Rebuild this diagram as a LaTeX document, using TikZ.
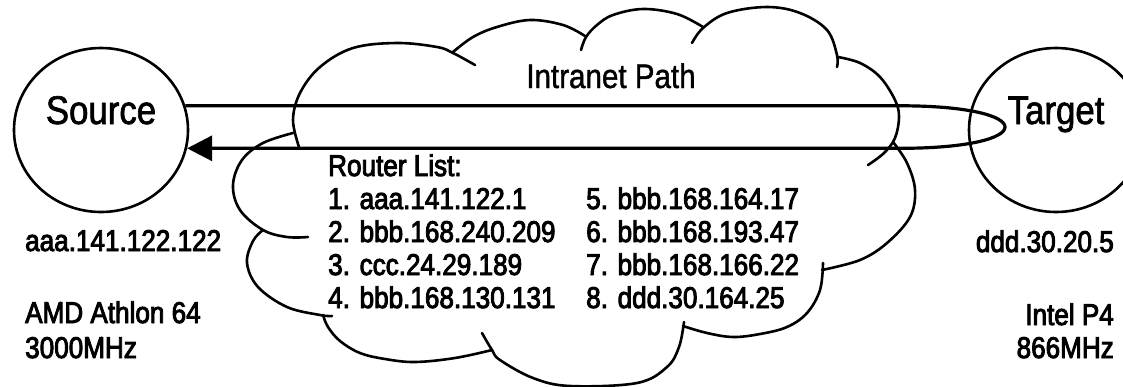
\documentclass[tikz,border=0pt]{standalone}
\usepackage{fontspec}
\setmainfont{Liberation Sans}[FakeStretch=0.87]
\newfontfamily\heavysans{Liberation Sans}[FakeStretch=0.87, FakeBold=3]
\newfontfamily\mediumsans{Liberation Sans}[FakeStretch=0.87, FakeBold=1.6]
\newfontfamily\lightsans{Liberation Sans}[FakeStretch=0.87, FakeBold=1.2]
\usetikzlibrary{shapes.geometric,arrows.meta}

\tikzset{
  cloudline/.style={line width=2.6pt, line cap=round, line join=round},
  host/.style={draw, ellipse, line width=2.6pt, minimum width=174pt,
               minimum height=164pt, inner sep=0pt},
  bigtext/.style={font=\mediumsans\fontsize{40}{48}\selectfont, inner sep=0pt},
  midtext/.style={font=\lightsans\fontsize{34}{40}\selectfont, inner sep=0pt},
  smalltext/.style={font=\heavysans\fontsize{30}{36}\selectfont, inner sep=0pt},
  pathline/.style={line width=3.2pt, line join=round},
  tip/.style={-{Triangle[length=25pt,width=25pt]}}
}

\begin{document}
\begin{tikzpicture}[x=1pt,y=-1pt]
\useasboundingbox (0,0) rectangle (1123,386);

% ---- cloud outline, one bulge at a time ----
\begin{scope}[cloudline]
  % left side
  \draw plot[smooth,tension=0.6] coordinates {(332,316) (320,315) (287,307) (258,287) (247,263) (253,241) (263,230)};
  \draw plot[smooth,tension=0.6] coordinates {(293,133) (263,143) (242,160) (233,185) (240,210) (263,230) (287,237) (308,237)};
  % top
  \draw plot[smooth,tension=0.6] coordinates {(299,147) (293,120) (300,93) (320,67) (353,48) (397,43) (437,47) (453,53) (475,65)};
  \draw plot[smooth,tension=0.6] coordinates {(453,52) (473,37) (497,27) (530,20) (563,25) (585,36)};
  \draw plot[smooth,tension=0.6] coordinates {(581,50) (586,37) (597,25) (613,15) (643,9) (677,14) (703,27)};
  \draw plot[smooth,tension=0.6] coordinates {(692,43) (703,28) (727,13) (767,7) (800,13) (827,30) (837,55) (837,67)};
  % right side
  \draw plot[smooth,tension=0.6] coordinates {(838,57) (860,63) (880,77) (895,100) (899,117) (895,138) (884,153) (868,165)};
  \draw plot[smooth,tension=0.6] coordinates {(893,142) (907,163) (915,190) (910,217) (887,243) (860,260) (822,270)};
  % bottom
  \draw plot[smooth,tension=0.6] coordinates {(823,263) (820,290) (807,313) (787,327) (760,334) (733,337) (707,333) (683,326)};
  \draw plot[smooth,tension=0.6] coordinates {(684,322) (679,347) (667,367) (637,383) (570,386) (533,378) (500,360) (492,350) (482,333)};
  \draw plot[smooth,tension=0.6] coordinates {(492,350) (455,358) (415,362) (385,359) (360,353) (340,341) (328,327) (323,315)};
\end{scope}

% ---- hosts ----
\node[host] (src) at (101,130) {};
\node[host] (tgt) at (1056,130) {};
\node[bigtext, anchor=base] (srcname) at (101,124) {Source};
\node[bigtext, anchor=base] (tgtname) at (1056,124) {Target};

% ---- path out to the target and back ----
\coordinate (bend) at (900,0);
\draw[pathline, tip] (src.16) -- (src.16 -| bend)
  .. controls +(140,0) and +(140,0) .. (src.348.5 -| bend) -- (src.348.5);

\node[midtext, anchor=base] (pathname) at (611,88) {Intranet Path};

% ---- router list ----
\node[smalltext, anchor=base west] (rl0) at (328,176) {Router List:};
\node[smalltext, anchor=base west] (rl1) at (328,209) {1. aaa.141.122.1};
\node[smalltext, anchor=base west] (rl2) at (328,242) {2. bbb.168.240.209};
\node[smalltext, anchor=base west] (rl3) at (328,275) {3. ccc.24.29.189};
\node[smalltext, anchor=base west] (rl4) at (328,308) {4. bbb.168.130.131};
\node[smalltext, anchor=base west] (rl5) at (586,209) {5. bbb.168.164.17};
\node[smalltext, anchor=base west] (rl6) at (586,242) {6. bbb.168.193.47};
\node[smalltext, anchor=base west] (rl7) at (586,275) {7. bbb.168.166.22};
\node[smalltext, anchor=base west] (rl8) at (586,308) {8. ddd.30.164.25};

% ---- host details ----
\node[smalltext, anchor=base west] (srcip) at (25,251) {aaa.141.122.122};
\node[smalltext, anchor=base west] (srccpu) at (25,323) {AMD Athlon 64};
\node[smalltext, anchor=base west] (srcclk) at (25,358) {3000MHz};
\node[smalltext, anchor=base east] (tgtip) at (1114,252) {ddd.30.20.5};
\node[smalltext, anchor=base east] (tgtcpu) at (1114,325) {Intel P4};
\node[smalltext, anchor=base east] (tgtclk) at (1114,358) {866MHz};
\end{tikzpicture}
\end{document}
